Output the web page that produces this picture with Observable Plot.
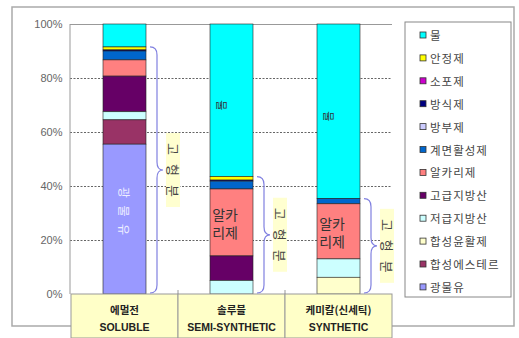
<!DOCTYPE html>
<html><head><meta charset="utf-8">
<script src="https://cdn.jsdelivr.net/npm/d3@7"></script>
<script src="https://cdn.jsdelivr.net/npm/@observablehq/plot@0.6"></script>
<style>
body{margin:0;background:#fff;}
#chart{position:relative;width:519px;height:338px;}
</style>
</head><body><div id="chart"></div>
<script>
// ---- data ----
const categoriesKo = ["에멀전", "솔루블", "케미칼(신세틱)"];
const categoriesEn = ["SOLUBLE", "SEMI-SYNTHETIC", "SYNTHETIC"];
const components = ["물","안정제","소포제","방식제","방부제","계면활성제","알카리제","고급지방산","저급지방산","합성윤활제","합성에스테르","광물유"];
const componentColors = ["#00FFFF","#FFFF00","#CC00CC","#000080","#CCCCFF","#0066CC","#FF8080","#660066","#CCFFFF","#FFFFCC","#993366","#9999FF"];
const solubleValues       = [8.5, 1.1, 0, 0.4, 0, 3.3, 6.0, 13.2, 3.0, 0, 9.0, 55.5];
const semiSyntheticValues = [56.5, 1.3, 0, 0.4, 0, 2.9, 24.8, 9.1, 5.0, 0, 0, 0];
const syntheticValues     = [64.7, 0, 0, 0, 0, 1.9, 20.4, 0, 6.8, 6.2, 0, 0];
const yTicks = [0, 20, 40, 60, 80, 100];
const solidsLabel = "고형분";
const waterLabel = "물";
const alkaliLabel = "알카\n리제";
const mineralLabel = "광물유";

// ---- build table ----
const seriesValues = [solubleValues, semiSyntheticValues, syntheticValues];
const stackOrder = components.slice().reverse();
const rows = [];
categoriesEn.forEach((c, i) => components.forEach((k, j) => {
  if (seriesValues[i][j] > 0) rows.push({cat: c, comp: k, value: seriesValues[i][j]});
}));
function segment(i, comp) {
  let acc = 0;
  for (const k of stackOrder) {
    const v = seriesValues[i][components.indexOf(k)];
    if (k === comp) return [acc, acc + v];
    acc += v;
  }
}
const solidsTop = seriesValues.map(v => d3.sum(v) - v[0]);
const waterLabels = [1, 2].map(i => ({cat: categoriesEn[i], y: d3.mean(segment(i, "물"))}));
const alkaliLabels = [1, 2].map(i => ({cat: categoriesEn[i], y: d3.mean(segment(i, "알카리제"))}));
const mineralLabels = [0].map(i => ({cat: categoriesEn[i], y: d3.mean(segment(i, "광물유"))}));

const W = 519, H = 338;
const plot = Plot.plot({
  width: W, height: H,
  marginLeft: 70, marginRight: 127, marginTop: 24, marginBottom: 44,
  style: {fontFamily: "'Liberation Sans','Noto Sans CJK KR',sans-serif", fontSize: "11px", background: "transparent", overflow: "visible"},
  x: {domain: categoriesEn, padding: 0, axis: null},
  y: {domain: [0, 100], axis: null},
  color: {domain: components, range: componentColors},
  marks: [
    Plot.gridY(yTicks.filter(t => t > 0 && t < 100), {stroke: "#555", strokeOpacity: 0.9, strokeDasharray: "2,1.5"}),
    Plot.ruleY([100], {stroke: "#999", strokeWidth: 1}),
    Plot.axisY({ticks: yTicks, tickFormat: d => d + "%", tickSize: 0, tickPadding: 8, fill: "#666", fontSize: 11}),
    Plot.barY(rows, {x: "cat", y: "value", fill: "comp", order: stackOrder, stroke: "#222", strokeWidth: 0.6, insetLeft: 32, insetRight: 32}),
    Plot.text(alkaliLabels, {x: "cat", y: "y", text: () => alkaliLabel, dx: -7, dy: 0, fontSize: 14, lineHeight: 1.3, fill: "#333", fontFamily: "'Noto Sans CJK KR'"})
  ]
});
document.getElementById("chart").appendChild(plot);

const svg = d3.select(plot);
const xs = plot.scale("x"), ys = plot.scale("y");
const bw = xs.bandwidth;
const x0 = xs.range[0];
const y0 = ys.apply(0), yTop = ys.apply(100);

// outer chart border
svg.insert("rect", ":first-child").attr("x", 12).attr("y", 7).attr("width", 502).attr("height", 319)
  .attr("fill", "#fff").attr("stroke", "#aaa").attr("stroke-width", 1.5);

// left axis line
svg.append("line").attr("x1", x0).attr("x2", x0).attr("y1", yTop).attr("y2", y0).attr("stroke", "#999");

// rotated labels inside bars
function rotatedText(cx, cy, txt, size, spacing, fill) {
  svg.append("text").attr("transform", `translate(${cx},${cy}) rotate(90)`).attr("text-anchor", "middle")
    .attr("dominant-baseline", "central").attr("font-family", "'Noto Sans CJK KR'").attr("font-size", size)
    .attr("letter-spacing", spacing).attr("dx", spacing / 2).attr("fill", fill).text(txt);
}
waterLabels.forEach(d => rotatedText(xs.apply(d.cat) + bw / 2 - 10, ys.apply(d.y) + 5, waterLabel, 11, 0, "#333"));
mineralLabels.forEach(d => rotatedText(xs.apply(d.cat) + bw / 2, ys.apply(d.y) - 8, mineralLabel, 12, 7.5, "#eef"));

// category table
const tbl = svg.append("g").attr("text-anchor", "middle");
categoriesEn.forEach((c, i) => {
  const bx = xs.apply(c);
  tbl.append("rect").attr("x", bx).attr("y", y0).attr("width", bw).attr("height", H - y0)
    .attr("fill", "#FFFFC8").attr("stroke", "#999").attr("stroke-width", 1);
  tbl.append("text").attr("x", bx + bw / 2).attr("y", y0 + 15)
    .attr("dominant-baseline", "central").attr("font-family", "'Noto Sans CJK KR'").attr("font-weight", "bold")
    .attr("font-size", 10.5).attr("fill", "#222").text(categoriesKo[i]);
  tbl.append("text").attr("x", bx + bw / 2).attr("y", y0 + 33)
    .attr("dominant-baseline", "central").attr("font-family", "'Liberation Sans',sans-serif").attr("font-weight", "bold")
    .attr("font-size", 10.5).attr("fill", "#222").text(categoriesEn[i]);
  if (i > 0) tbl.append("line").attr("x1", bx).attr("x2", bx).attr("y1", y0 - 4).attr("y2", y0).attr("stroke", "#999");
});

// braces + solids labels
categoriesEn.forEach((c, i) => {
  const right = xs.apply(c) + bw - 32;
  const yT = ys.apply(solidsTop[i]), yB = y0 - 1;
  const ym = (yT + yB) / 2, r = 8;
  const xa = right + 4, xv = right + 11, xt = right + 17;
  const p = `M${xa},${yT} Q${xv},${yT} ${xv},${yT + r} L${xv},${ym - r} Q${xv},${ym} ${xt},${ym} Q${xv},${ym} ${xv},${ym + r} L${xv},${yB - r} Q${xv},${yB} ${xa},${yB}`;
  svg.append("path").attr("d", p).attr("fill", "none").attr("stroke", "#8080E0").attr("stroke-width", 1.2);
  const cx = right + 27;
  svg.append("rect").attr("x", cx - 7).attr("y", ym - 37).attr("width", 14).attr("height", 74).attr("fill", "#FFFFD0");
  rotatedText(cx, ym, solidsLabel, 13, 9, "#444");
});

// legend
const lg = svg.append("g").attr("text-anchor", "start");
lg.append("rect").attr("x", 405).attr("y", 22).attr("width", 106).attr("height", 275)
  .attr("fill", "#fff").attr("stroke", "#888").attr("stroke-width", 1);
components.forEach((k, i) => {
  const yy = 35 + i * 22.9;
  lg.append("rect").attr("x", 420).attr("y", yy - 3).attr("width", 6).attr("height", 6)
    .attr("fill", componentColors[i]).attr("stroke", "#333").attr("stroke-width", 0.8);
  lg.append("text").attr("x", 430).attr("y", yy).attr("dominant-baseline", "central")
    .attr("font-family", "'Noto Sans CJK KR'").attr("font-size", 11.5).attr("letter-spacing", 1)
    .attr("fill", "#444").text(k);
});
</script>
</body></html>
